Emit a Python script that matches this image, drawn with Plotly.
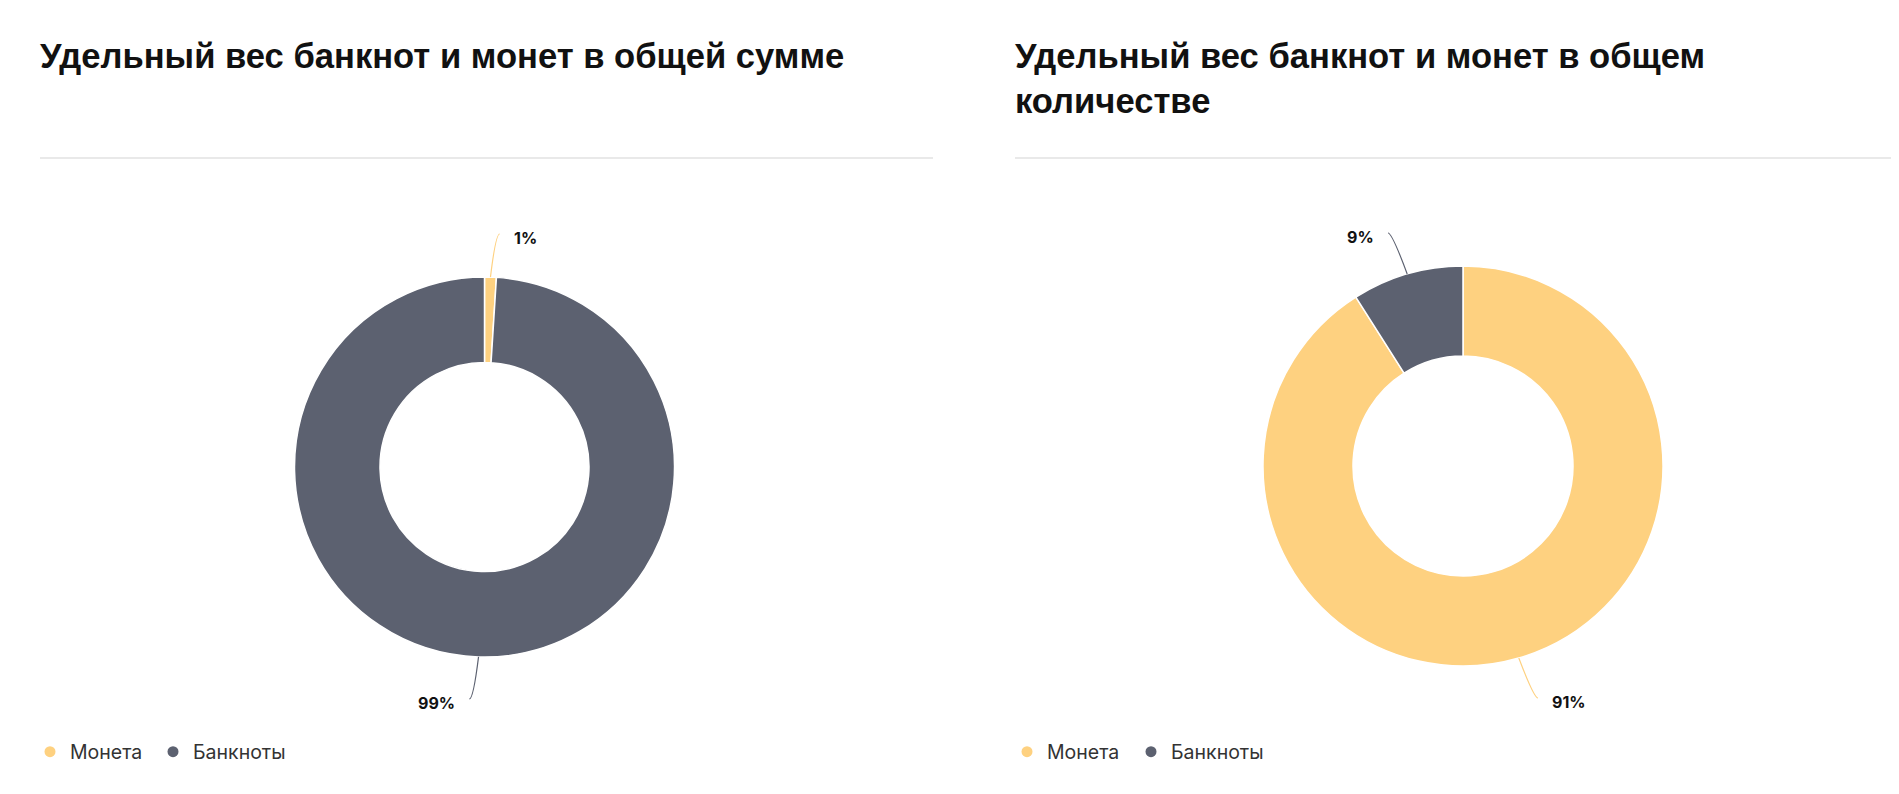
import math
import plotly.graph_objects as go

# Canvas size and page offset (the page body adds an 8px margin)
W, H = 1899, 794
OFF = 8

# Data
labels = ['Монета', 'Банкноты']
sum_share = [1, 99]       # % of total sum
count_share = [91, 9]     # % of total count
colors = ['#FED180', '#5C6170']

titles = ['Удельный вес банкнот и монет в общей сумме',
          'Удельный вес банкнот и монет в общем<br>количестве']

# Placement of each donut (screen pixels): centre x, centre y, outer radius
charts = [
    dict(values=sum_share, cx=484.5, cy=467, r=190, left=40, right=933, legx=[30, 153]),
    dict(values=count_share, cx=1463, cy=466, r=200, left=1015, right=1905, legx=[1007, 1131]),
]


def px(x):
    return (x - OFF) / W


def py(y):
    return 1 - (y - OFF) / H


fig = go.Figure()
shapes = []
annotations = []
legends = {}
n_leg = 0

for i, ch in enumerate(charts):
    cx, cy, r = ch['cx'], ch['cy'], ch['r']
    fig.add_trace(go.Pie(
        labels=labels, values=ch['values'], hole=0.55, sort=False,
        direction='clockwise', rotation=0, textinfo='none',
        marker=dict(colors=colors, line=dict(color='white', width=1.5)),
        domain=dict(x=[px(cx - r), px(cx + r)], y=[py(cy + r), py(cy - r)]),
        showlegend=False, hoverinfo='label+percent'))

    # legend entries with round markers, one small legend per entry
    for lab, col, lx in zip(labels, colors, ch['legx']):
        n_leg += 1
        name = 'legend' if n_leg == 1 else 'legend{}'.format(n_leg)
        fig.add_trace(go.Scatter(
            x=[None], y=[None], mode='markers', name=lab,
            marker=dict(color=col, size=11, symbol='circle'), legend=name))
        legends[name] = dict(
            orientation='h', x=px(lx), xanchor='left', yanchor='middle', y=py(752),
            font=dict(family='Inter', size=19.5, color='#333333'),
            bgcolor='rgba(0,0,0,0)', itemclick=False)

    # title and divider
    annotations.append(dict(
        text='<b>' + titles[i].replace('<br>', '</b><br><b>') + '</b>',
        x=px(ch['left'] - 2), y=py(35), xref='paper', yref='paper',
        xanchor='left', yanchor='top', showarrow=False, align='left',
        font=dict(family='Liberation Sans, Arial', size=34.6, color='#111111')))
    shapes.append(dict(type='line', xref='paper', yref='paper',
                       x0=px(ch['left']), x1=px(ch['right']), y0=py(158), y1=py(158),
                       line=dict(color='#E9E9E9', width=2)))

    # outside percentage labels with curved connectors
    total = sum(ch['values'])
    cum = 0
    for v, col in zip(ch['values'], colors):
        theta = math.radians(360 * (cum + v / 2) / total)
        cum += v
        s, c = math.sin(theta), math.cos(theta)
        sign = 1 if s >= 0 else -1
        x0, y0 = cx + r * s, cy - r * c
        y1 = cy - 233 if c > 0 else cy + 232
        x1 = cx + 1.2 * r * s + sign * 8
        path = 'M {},{} Q {},{} {},{}'.format(
            px(x0), py(y0), px(x1 - sign * 4), py(y1), px(x1), py(y1))
        shapes.append(dict(type='path', path=path, xref='paper', yref='paper',
                           line=dict(color=col, width=1.2)))
        annotations.append(dict(
            text='<b>{}%</b>'.format(v), x=px(x1 + sign * 12), y=py(y1 + 4),
            xref='paper', yref='paper', showarrow=False,
            xanchor='left' if sign > 0 else 'right', yanchor='middle',
            font=dict(family='Inter', size=16, color='#111111')))

fig.update_layout(
    width=W, height=H,
    margin=dict(l=0, r=0, t=0, b=0),
    paper_bgcolor='white', plot_bgcolor='white',
    xaxis=dict(visible=False), yaxis=dict(visible=False),
    shapes=shapes, annotations=annotations,
    **legends
)

fig.write_html("out.html")
